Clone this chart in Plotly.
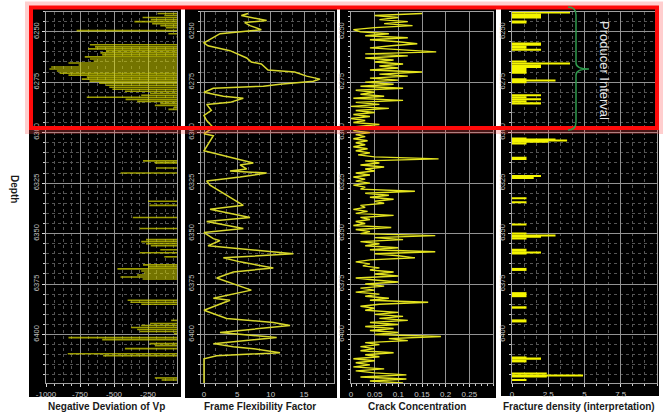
import plotly.graph_objects as go

W, H = 667, 417

# ---------------- data ----------------
depth_ticks = [6250, 6275, 6300, 6325, 6350, 6375, 6400]

# Panel 1: Negative deviation of Vp (spikes from 0 to the left)
vp_depth = [6241, 6242, 6243, 6244, 6245, 6246, 6247, 6248, 6249.5, 6251, 6252.5,
            6256.5, 6257.5, 6258.5, 6259.5, 6260.5, 6261.5, 6262.5, 6263.5, 6264.5, 6265.5,
            6266.5, 6267.5, 6268.5, 6269.5, 6270.5, 6271.5, 6272.5, 6273.5, 6274.5, 6275.5,
            6276.5, 6277.5, 6278.5, 6279.5, 6280.5, 6281.5, 6282.5, 6283.5, 6284.5, 6285.5,
            6286.5, 6287.5, 6288.5,
            6314, 6315, 6317.5, 6320, 6334, 6336, 6342, 6347.5, 6353, 6354, 6355, 6356,
            6358, 6359.5, 6361.5, 6365.5, 6366.5, 6367.5, 6368.5, 6369.5, 6370.5, 6371.5,
            6372.5, 6383, 6384, 6385, 6393, 6394.5, 6395.5, 6396.5, 6397.5, 6398.5, 6399.5,
            6401.5, 6402.5, 6404.5, 6405.5, 6407, 6409.5, 6410.5, 6421.5, 6422.5]
vp_dev = [-180, -130, -290, -230, -350, -220, -160, -120, -775, -100, -40,
          -677, -640, -690, -560, -600, -587, -715, -677, -650, -835,
          -760, -962, -975, -920, -900, -835, -700, -737, -680, -610,
          -560, -535, -512, -420, -235, -300, -700, -415, -330, -160,
          -200, -60, -100,
          -287, -200, -190, -452, -250, -240, -362, -310, -265, -300, -265, -230,
          -160, -310, -130, -287, -250, -475, -300, -280, -330, -452,
          -290, -400, -380, -300, -80, -235, -300, -375, -330, -310, -60,
          -835, -587, -240, -200, -420, -840, -580, -200, -150]

# Panel 2: Frame flexibility factor
ff_depth = [6241, 6242, 6244.5, 6245.5, 6247, 6249, 6251, 6255.5, 6257, 6259.4,
            6263, 6265, 6266, 6269, 6270, 6272, 6273.5, 6274.5, 6276, 6277,
            6278, 6280, 6282, 6283, 6285, 6286, 6289, 6291.5, 6294, 6297.5,
            6300.5, 6301.5, 6309, 6312, 6315, 6316, 6318, 6319, 6320, 6322,
            6324, 6326, 6330, 6332, 6334, 6336, 6338, 6342, 6344, 6347.5,
            6349.5, 6352.5, 6353.5, 6356, 6360, 6362, 6364, 6367, 6369, 6372,
            6378, 6382, 6383, 6388, 6392, 6394, 6395.5, 6399, 6401.5, 6404.5,
            6406, 6407, 6409, 6410.5, 6412, 6424]
ff_val = [6.6, 5.6, 9.4, 6.1, 6.9, 8.6, 2.4, 0.0, 0.6, 3.9,
          6.4, 7.1, 8.6, 9.6, 13.6, 15.4, 17.4, 16.4, 11.4, 8.9,
          1.4, 0.0, 2.9, 5.9, 3.9, 0.4, 1.1, 0.0, 0.4, 1.4,
          0.0, 1.4, 0.0, 3.9, 7.4, 5.4, 6.4, 3.9, 9.4, 5.4,
          0.4, 0.9, 2.9, 3.9, 4.9, 5.9, 0.9, 6.9, 0.4, 5.9,
          0.0, 1.4, 2.4, 0.6, 13.4, 2.9, 5.4, 10.4, 4.4, 1.9,
          7.1, 1.4, 3.9, 0.0, 3.4, 10.4, 12.9, 2.4, 10.9, 1.4,
          4.4, 7.4, 11.4, 1.9, 0.0, 0.0]

# Panel 3: Crack concentration (1 ft samples from 6241 to 6424)
cc_depth = list(range(6241, 6425))
cc_val = [0.15, 0.05, 0.10, 0.06, 0.12, 0.07, 0.13, 0.05, 0.005, 0.02,
          0.08, 0.03, 0.12, 0.04, 0.10, 0.14, 0.085, 0.04, 0.11, 0.18,
          0.03, 0.12, 0.03, 0.09, 0.05, 0.11, 0.06, 0.10, 0.04, 0.15,
          0.06, 0.12, 0.04, 0.10, 0.03, 0.09, 0.02, 0.11, 0.01, 0.05,
          0.02, 0.07, 0.005, 0.11, 0.01, 0.06, 0.00, 0.08, 0.01, 0.05,
          0.005, 0.04, 0.00, 0.03, 0.005, 0.06, 0.01, 0.03, 0.005, 0.04,
          0.01, 0.03, 0.005, 0.035, 0.01, 0.03, 0.005, 0.035, 0.01, 0.04,
          0.015, 0.05, 0.185, 0.03, 0.06, 0.02, 0.07, 0.03, 0.05, 0.01,
          0.04, 0.005, 0.03, 0.01, 0.04, 0.005, 0.03, 0.02, 0.135, 0.03,
          0.08, 0.04, 0.09, 0.05, 0.07, 0.02, 0.03, 0.005, 0.035, 0.01,
          0.09, 0.02, 0.04, 0.01, 0.03, 0.005, 0.085, 0.01, 0.04, 0.02,
          0.178, 0.05, 0.11, 0.02, 0.06, 0.03, 0.10, 0.04, 0.178, 0.05,
          0.10, 0.135, 0.04, 0.01, 0.04, 0.025, 0.06, 0.04, 0.09, 0.05,
          0.10, 0.01, 0.05, 0.10, 0.03, 0.07, 0.02, 0.05, 0.01, 0.06,
          0.03, 0.08, 0.04, 0.163, 0.06, 0.02, 0.05, 0.03, 0.10, 0.05,
          0.11, 0.06, 0.12, 0.04, 0.10, 0.03, 0.09, 0.04, 0.10, 0.05,
          0.19, 0.08, 0.12, 0.03, 0.06, 0.02, 0.05, 0.02, 0.09, 0.03,
          0.06, 0.005, 0.05, 0.01, 0.04, 0.005, 0.07, 0.01, 0.05, 0.117,
          0.02, 0.117, 0.04, 0.11]

# Panel 4: Fracture density intervals
fd_top = [6240.0, 6241.0, 6244.5, 6255.4, 6257.0, 6258.5, 6264.4, 6265.3, 6266.3, 6268.0,
          6273.0, 6274.0, 6274.6, 6281.0, 6282.0, 6283.0, 6284.0, 6285.0,
          6302.5, 6303.0, 6303.6, 6304.1, 6305.0, 6312.0, 6321.0, 6322.0, 6332.0, 6334.0,
          6345.0, 6349.5, 6350.5, 6351.2, 6352.0, 6357.5, 6359.0, 6359.6, 6367.0, 6379.0,
          6386.0, 6392.5, 6411.0, 6411.8, 6412.5, 6419.0, 6419.8, 6420.4, 6422.0]
fd_base = [6241.0, 6243.5, 6246.0, 6257.0, 6258.5, 6259.5, 6265.3, 6266.3, 6268.0, 6270.8,
           6274.0, 6274.6, 6275.5, 6282.0, 6283.0, 6284.0, 6285.0, 6286.0,
           6303.0, 6303.6, 6304.1, 6305.0, 6305.6, 6313.5, 6322.0, 6323.0, 6333.0, 6335.0,
           6346.0, 6350.5, 6351.2, 6352.0, 6352.6, 6359.0, 6359.6, 6360.2, 6368.5, 6381.5,
           6387.2, 6394.0, 6411.8, 6412.5, 6413.8, 6419.8, 6420.4, 6421.2, 6423.0]
fd_val = [4.0, 2.0, 1.0, 2.0, 1.0, 2.0, 1.0, 4.0, 2.0, 1.0,
          1.0, 3.0, 1.0, 2.0, 1.0, 2.0, 1.0, 2.0,
          1.0, 3.0, 3.8, 2.5, 1.0, 1.0, 2.0, 1.5, 1.0, 1.0,
          1.0, 1.0, 3.0, 2.0, 1.0, 1.0, 2.0, 1.0, 1.0, 1.0,
          1.0, 1.0, 1.0, 2.0, 1.0, 2.4, 4.9, 2.4, 1.0]

x_titles = ["Negative Deviation of Vp", "Frame Flexibility Factor",
            "Crack Concentration", "Fracture density (interpretation)"]

# ---------------- figure ----------------
def X(p):
    return p / W

def Y(p):
    return 1 - p / H

fig = go.Figure()

fig.add_trace(go.Bar(x=vp_dev, y=vp_depth, orientation="h", width=0.8,
                     marker=dict(color="rgba(215,215,0,0.72)", line=dict(width=0)),
                     xaxis="x", yaxis="y", showlegend=False))

fig.add_trace(go.Scatter(x=ff_val, y=ff_depth, mode="lines",
                         line=dict(color="#d8d82c", width=1.5),
                         xaxis="x2", yaxis="y2", showlegend=False))

fig.add_trace(go.Scatter(x=cc_val, y=cc_depth, mode="lines",
                         line=dict(color="#e4e41e", width=1.4),
                         xaxis="x3", yaxis="y3", showlegend=False))

fd_mid = [(a + b) / 2 for a, b in zip(fd_top, fd_base)]
fd_w = [b - a for a, b in zip(fd_top, fd_base)]
fig.add_trace(go.Bar(x=fd_val, y=fd_mid, width=fd_w, orientation="h",
                     marker=dict(color="#f5f500", line=dict(width=0)),
                     xaxis="x4", yaxis="y4", showlegend=False))

xtick_font = dict(family="Liberation Sans, Arial", size=8, color="#c8c8c8")
ytick_font = dict(family="Liberation Sans, Arial", size=7.5, color="#c0c0c0")
MAJ = "#939393"
MIN = "#555555"

x_specs = [
    dict(dom=(46, 177), rng=[-1000, -37], tv=[-1000, -750, -500, -250],
         tt=["-1000", "-750", "-500", "-250"], mdt=62.5, t0=-1000, mgrid=True),
    dict(dom=(201, 334), rng=[-0.45, 19.5], tv=[0, 5, 10, 15],
         tt=["0", "5", "10", "15"], mdt=5 / 3, t0=0, mgrid=True),
    dict(dom=(351, 493), rng=[0, 0.3], tv=[0, 0.05, 0.1, 0.15, 0.2, 0.25],
         tt=["0", "0.05", "0.1", "0.15", "0.2", "0.25"], mdt=0.0125, t0=0, mgrid=False),
    dict(dom=(512, 657), rng=[0, 10], tv=[0, 2.5, 5, 7.5],
         tt=["0", "2.5", "5", "7.5"], mdt=2.5 / 3, t0=0, mgrid=True),
]

ydom = [Y(383), Y(11.5)]
layout = dict(
    width=W, height=H, margin=dict(l=0, r=0, t=0, b=0, autoexpand=False),
    paper_bgcolor="white", plot_bgcolor="black",
    barmode="overlay", showlegend=False,
)
for i, s in enumerate(x_specs):
    n = "" if i == 0 else str(i + 1)
    layout["xaxis" + n] = dict(
        domain=[X(s["dom"][0]), X(s["dom"][1])], range=s["rng"], anchor="y" + n,
        tickvals=s["tv"], ticktext=s["tt"], tickfont=xtick_font, automargin=False,
        showgrid=True, gridcolor=MAJ, gridwidth=1, zeroline=False,
        showline=True, mirror=True, linecolor="#a0a0a0", linewidth=1,
        ticks="outside", ticklen=3, tickcolor="#dddddd",
        minor=dict(dtick=s["mdt"], tick0=s["t0"], showgrid=s["mgrid"],
                   gridcolor=MIN, griddash="dot", ticks="outside", ticklen=2,
                   tickcolor="#cccccc"),
        fixedrange=True,
    )
    layout["yaxis" + n] = dict(
        domain=ydom, range=[6424, 6240], anchor="x" + n,
        tickvals=depth_ticks, tickangle=-90, tickfont=ytick_font, automargin=False,
        showgrid=True, gridcolor=MAJ, gridwidth=1, zeroline=False,
        showline=True, mirror=True, linecolor="#a0a0a0", linewidth=1,
        ticks="outside", ticklen=3, tickcolor="#dddddd",
        minor=dict(dtick=5 if s["mgrid"] else 2.5, showgrid=s["mgrid"],
                   gridcolor=MIN, griddash="dot", ticks="outside", ticklen=2,
                   tickcolor="#cccccc"),
        fixedrange=True,
    )

shapes = []
# black panel backgrounds
for (a, b, top, bot) in [(29, 181, 8, 397), (185, 337, 8, 398),
                         (340, 496, 8, 398), (501, 659, 8, 396)]:
    shapes.append(dict(type="rect", xref="paper", yref="paper", layer="below",
                       x0=X(a), x1=X(b), y0=Y(bot), y1=Y(top),
                       fillcolor="black", line=dict(width=0)))
# red highlight rectangle (outer glow + line)
shapes.append(dict(type="rect", xref="paper", yref="paper", layer="above",
                   x0=X(28), x1=X(660), y0=Y(131), y1=Y(4.5),
                   line=dict(color="rgba(255,80,80,0.28)", width=6)))
shapes.append(dict(type="rect", xref="paper", yref="paper", layer="above",
                   x0=X(31), x1=X(657), y0=Y(128), y1=Y(7.5),
                   line=dict(color="#ff0a0a", width=4)))
# green curly bracket
bx, tip = 576, 589
path = (f"M {X(568)},{Y(7)} Q {X(bx)},{Y(7)} {X(bx)},{Y(15)} "
        f"L {X(bx)},{Y(63)} Q {X(bx)},{Y(69)} {X(tip)},{Y(69)} "
        f"Q {X(bx)},{Y(69)} {X(bx)},{Y(75)} "
        f"L {X(bx)},{Y(122)} Q {X(bx)},{Y(130)} {X(568)},{Y(130)}")
shapes.append(dict(type="path", xref="paper", yref="paper", layer="above",
                   path=path, line=dict(color="#2f9a4e", width=1.5)))
layout["shapes"] = shapes

title_font = dict(family="Liberation Sans, Arial", size=10,
                  color="#1a1a1a", weight="bold")
centers = [106, 260, 417, 579]
ann = []
for t, c in zip(x_titles, centers):
    ann.append(dict(text=t, x=X(c), y=Y(406), xref="paper", yref="paper",
                    showarrow=False, font=title_font, xanchor="center", yanchor="middle"))
ann.append(dict(text="Depth", x=X(15), y=Y(189), xref="paper", yref="paper",
                showarrow=False, textangle=90, xanchor="center", yanchor="middle",
                font=dict(family="Liberation Sans, Arial", size=10,
                          color="#1a1a1a", weight="bold")))
ann.append(dict(text="Producer Interval", x=X(605), y=Y(70), xref="paper", yref="paper",
                showarrow=False, textangle=90, xanchor="center", yanchor="middle",
                font=dict(family="Liberation Sans, Arial", size=13, color="#e8e8e8")))
layout["annotations"] = ann

fig.update_layout(**layout)
fig.write_html("out.html")
